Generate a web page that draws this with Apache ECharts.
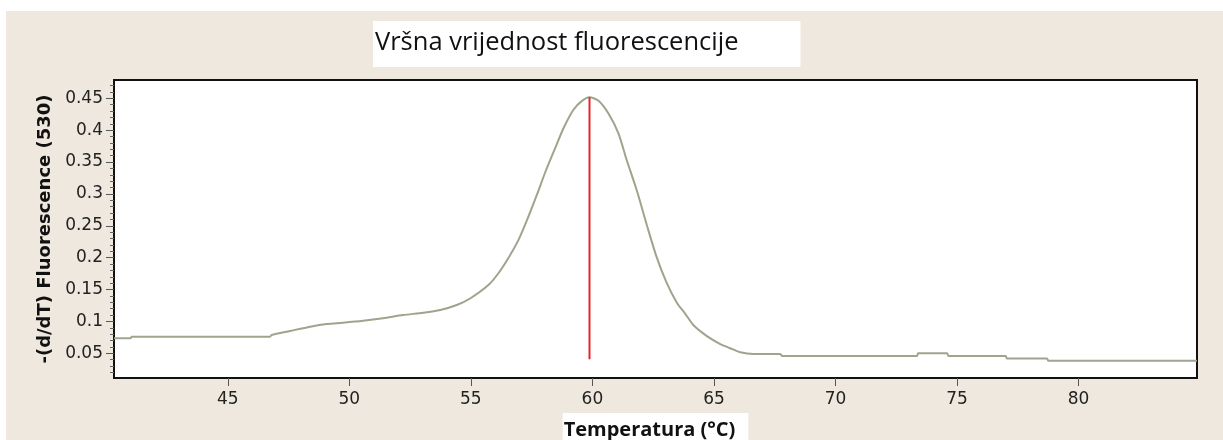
<!DOCTYPE html>
<html>
<head>
<meta charset="utf-8">
<script src="https://cdn.jsdelivr.net/npm/echarts@6/dist/echarts.min.js"></script>
<style>
  html, body { margin: 0; padding: 0; background: #fff; }
  #chart { width: 1223px; height: 440px; }
</style>
</head>
<body>
<div id="chart"></div>
<script>
// ---- data ----
const titleText = 'Vršna vrijednost fluorescencije';
const xName = 'Temperatura (°C)';
const yName = '-(d/dT) Fluorescence (530)';

const temps = [40.32, 41.0, 41.05, 46.74, 46.8, 47.56, 48.39, 49.07, 49.74, 50.57, 51.39, 52.21, 53.04, 53.74,
  54.42, 54.97, 55.72, 56.14, 56.55, 56.96, 57.30, 57.71, 58.06, 58.47, 58.81, 59.22, 59.57, 59.88,
  60.25, 60.66, 61.07, 61.42, 61.83, 62.24, 62.65, 63.06, 63.48, 63.82, 64.16, 64.71, 65.26, 65.67, 66.08,
  66.63, 67.73, 67.8, 73.35, 73.4, 74.59, 74.65, 77.0, 77.05, 78.7, 78.75, 84.87];
const values = [0.0735, 0.0735, 0.076, 0.076, 0.0787, 0.085, 0.0918, 0.096, 0.098, 0.101, 0.105, 0.110, 0.1137, 0.118,
  0.1258, 0.136, 0.157, 0.176, 0.200, 0.228, 0.258, 0.298, 0.334, 0.372, 0.403, 0.432, 0.446, 0.4516,
  0.446, 0.426, 0.395, 0.352, 0.305, 0.251, 0.200, 0.160, 0.129, 0.112, 0.094, 0.077, 0.0645, 0.058, 0.0516,
  0.049, 0.049, 0.0458, 0.0458, 0.050, 0.050, 0.0458, 0.0458, 0.042, 0.042, 0.0384, 0.0384];

const peakTemp = 59.88;
const peakTop = 0.4516;
const peakBottom = 0.0406;

const xMin = 40.32, xMax = 84.87;
const yMin = 0.0113, yMax = 0.4787;
const xTicks = [45, 50, 55, 60, 65, 70, 75, 80];
const yTicks = [0.05, 0.1, 0.15, 0.2, 0.25, 0.3, 0.35, 0.4, 0.45];
const yMinorTicks = [0.02, 0.03, 0.04, 0.06, 0.07, 0.08, 0.09, 0.11, 0.12, 0.13, 0.14, 0.16, 0.17, 0.18, 0.19,
  0.21, 0.22, 0.23, 0.24, 0.26, 0.27, 0.28, 0.29, 0.31, 0.32, 0.33, 0.34, 0.36, 0.37, 0.38, 0.39,
  0.41, 0.42, 0.43, 0.44, 0.46, 0.47];

// ---- chart ----
const curve = temps.map((t, i) => [t, values[i]]);
const marker = [[peakTemp, peakBottom], [peakTemp, peakTop]];

const chart = echarts.init(document.getElementById('chart'), null, { renderer: 'canvas' });
chart.setOption({
  animation: false,
  backgroundColor: '#ffffff',
  graphic: [{
    type: 'rect', z: -10, silent: true,
    shape: { x: 6, y: 11, width: 1217, height: 429 },
    style: { fill: '#EFE8DF' }
  }],
  title: {
    text: titleText,
    left: 373, top: 21,
    backgroundColor: '#ffffff',
    padding: [7, 62, 9, 2],
    textStyle: { fontFamily: 'Open Sans', fontSize: 25.5, fontWeight: 'normal', color: '#111', lineHeight: 30 }
  },
  grid: {
    left: 114, right: 26, top: 80, bottom: 62,
    outerBoundsMode: 'none', containLabel: false,
    show: true, backgroundColor: '#ffffff', borderColor: '#111', borderWidth: 2
  },
  xAxis: {
    type: 'value', min: xMin, max: xMax,
    name: xName, nameLocation: 'middle', nameGap: 34,
    nameTextStyle: { fontFamily: 'Open Sans', fontWeight: 'bold', fontSize: 20, color: '#111',
      backgroundColor: '#fff', padding: [7, 13, 2, 1], lineHeight: 20 },
    axisLine: { show: false },
    splitLine: { show: false },
    axisTick: { show: true, length: 8, customValues: xTicks, lineStyle: { color: '#555', width: 1 } },
    axisLabel: { customValues: xTicks, margin: 13, fontFamily: 'DejaVu Sans', fontSize: 17, color: '#222',
      formatter: v => String(v) }
  },
  yAxis: [{
    type: 'value', min: yMin, max: yMax,
    name: yName, nameLocation: 'middle', nameGap: 54, nameRotate: 90,
    nameTextStyle: { fontFamily: 'DejaVu Sans', fontWeight: 'bold', fontSize: 18, color: '#111' },
    axisLine: { show: false },
    splitLine: { show: false },
    axisTick: { show: true, length: 8, customValues: yTicks, lineStyle: { color: '#555', width: 1 } },
    axisLabel: { customValues: yTicks, margin: 11, fontFamily: 'DejaVu Sans', fontSize: 17, color: '#222',
      formatter: v => String(v) }
  }, {
    type: 'value', min: yMin, max: yMax, position: 'left',
    axisLine: { show: false },
    splitLine: { show: false },
    axisTick: { show: true, length: 4, customValues: yMinorTicks, lineStyle: { color: '#666', width: 1 } },
    axisLabel: { show: false }
  }],
  series: [{
    type: 'line', data: curve, showSymbol: false, symbol: 'none',
    smooth: 0.25,
    lineStyle: { color: '#9DA58C', width: 2 }, z: 3
  }, {
    type: 'line', data: marker, showSymbol: false, symbol: 'none',
    lineStyle: { color: '#E3262B', width: 2 }, z: 4
  }]
});
</script>
</body>
</html>
